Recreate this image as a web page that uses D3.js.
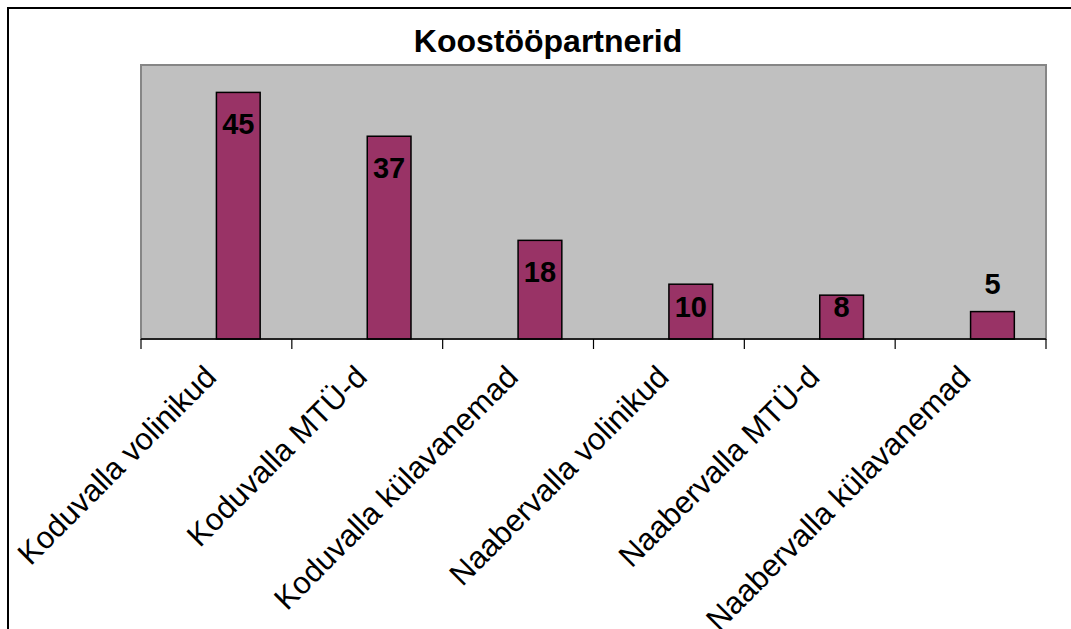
<!DOCTYPE html>
<html>
<head>
<meta charset="utf-8">
<script src="https://cdn.jsdelivr.net/npm/d3@7"></script>
<style>
  body { margin: 0; background: #fff; }
  text { font-family: "Liberation Sans", Arial, sans-serif; }
</style>
</head>
<body>
<div id="chart"></div>
<script>
const title = "Koostööpartnerid";
const categories = [
  "Koduvalla volinikud",
  "Koduvalla MTÜ-d",
  "Koduvalla külavanemad",
  "Naabervalla volinikud",
  "Naabervalla MTÜ-d",
  "Naabervalla külavanemad"
];
const values = [45, 37, 18, 10, 8, 5];
const yMax = 50;

const W = 1071, H = 629;
const plot = { left: 141, right: 1046, top: 65, bottom: 339 };

const svg = d3.select("#chart").append("svg")
  .attr("width", W)
  .attr("height", H);

svg.append("rect").attr("width", W).attr("height", H).attr("fill", "#fff");

// outer chart border (runs past the right and bottom edge)
svg.append("rect")
  .attr("x", 8).attr("y", 8)
  .attr("width", 1100).attr("height", 700)
  .attr("fill", "none")
  .attr("stroke", "#000")
  .attr("stroke-width", 2);

svg.append("text")
  .attr("x", 548)
  .attr("y", 52)
  .attr("text-anchor", "middle")
  .attr("font-size", 32)
  .attr("font-weight", "bold")
  .text(title);

const x = d3.scaleBand().domain(categories).range([plot.left, plot.right]).padding(0);
const y = d3.scaleLinear().domain([0, yMax]).range([plot.bottom, plot.top]);

svg.append("rect")
  .attr("x", plot.left).attr("y", plot.top)
  .attr("width", plot.right - plot.left)
  .attr("height", plot.bottom - plot.top)
  .attr("fill", "#c0c0c0")
  .attr("stroke", "#868686")
  .attr("stroke-width", 2);

const bw = x.bandwidth();
const barW = bw * 0.29;

svg.selectAll(".bar")
  .data(values)
  .enter().append("rect")
  .attr("class", "bar")
  .attr("x", (d, i) => x(categories[i]) + bw / 2)
  .attr("y", d => y(d))
  .attr("width", barW)
  .attr("height", d => y(0) - y(d))
  .attr("fill", "#993366")
  .attr("stroke", "#000")
  .attr("stroke-width", 1.5);

// x axis: line plus ticks at category boundaries
const axis = svg.append("g");
axis.append("line")
  .attr("x1", plot.left).attr("x2", plot.right)
  .attr("y1", y(0)).attr("y2", y(0))
  .attr("stroke", "#000").attr("stroke-width", 1.5);
const bounds = categories.map(c => x(c)).concat([plot.right]);
axis.selectAll(".tick")
  .data(bounds)
  .enter().append("line")
  .attr("x1", d => d).attr("x2", d => d)
  .attr("y1", y(0)).attr("y2", y(0) + 10)
  .attr("stroke", "#000").attr("stroke-width", 1.2);

// value labels
svg.selectAll(".label")
  .data(values)
  .enter().append("text")
  .attr("class", "label")
  .attr("x", (d, i) => x(categories[i]) + bw / 2 + barW / 2)
  .attr("y", d => {
    const top = y(d);
    if (y(0) - top < 35) return top - 18;
    return Math.min(top + 42, y(0) - 22);
  })
  .attr("text-anchor", "middle")
  .attr("font-size", 29)
  .attr("font-weight", "bold")
  .text(d => d);

// rotated category labels
svg.selectAll(".cat")
  .data(categories)
  .enter().append("text")
  .attr("class", "cat")
  .attr("transform", d => `translate(${x(d) + bw / 2 - 14},363) rotate(-45)`)
  .attr("dy", "0.72em")
  .attr("text-anchor", "end")
  .attr("font-size", 31)
  .text(d => d);
</script>
</body>
</html>
